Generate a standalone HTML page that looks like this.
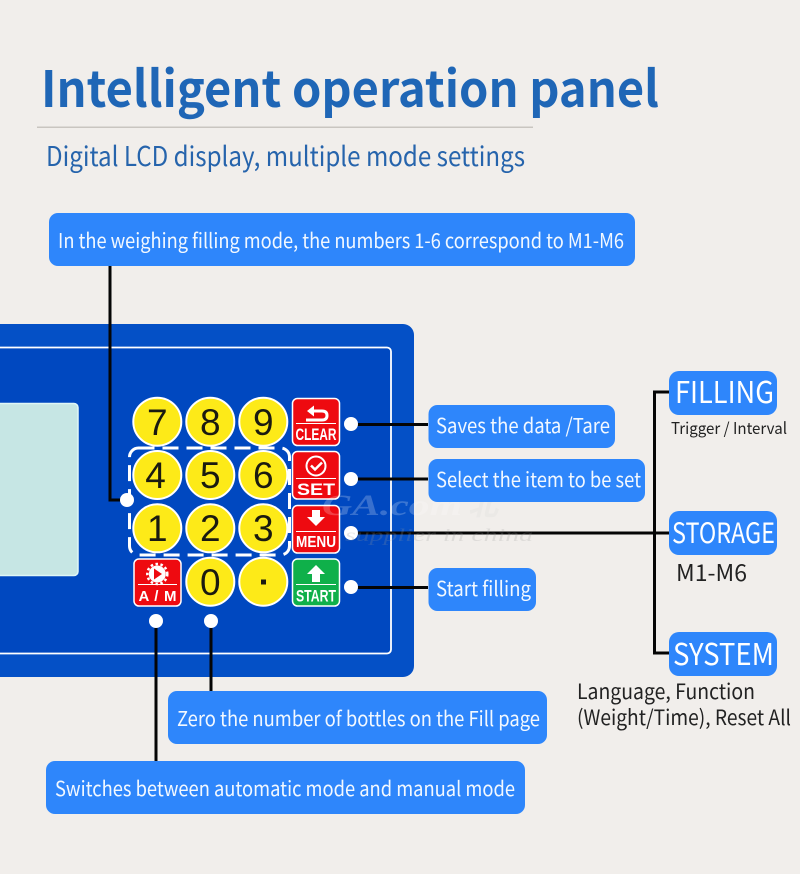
<!DOCTYPE html>
<html><head><meta charset="utf-8"><style>
html,body{margin:0;padding:0;background:#f1eeeb}
svg{display:block}
text{font-family:"Noto Sans CJK JP","Liberation Sans",sans-serif}
.l{fill:#f2f8ff;font-size:20.5px}
.d{font-family:"Liberation Sans",sans-serif;font-size:37px;fill:#1a1a10;text-anchor:middle}
.b{font-family:"Liberation Sans",sans-serif;font-weight:bold;fill:#fff;text-anchor:middle}
.h{fill:#2e86fb}
.k{fill:#fdea18;stroke:#fff;stroke-width:2}
.w{stroke:#050505;stroke-width:3;fill:none}
</style></head><body>
<svg width="800" height="874" viewBox="0 0 800 874" xmlns="http://www.w3.org/2000/svg">
<rect width="800" height="874" fill="#f1eeeb"/>
<text x="41" y="107" font-size="50" font-weight="700" fill="#1f66b6" textLength="618" lengthAdjust="spacingAndGlyphs">Intelligent operation panel</text>
<rect x="37" y="126.500" width="496" height="1.500" fill="#c9c5c0"/>
<text x="46" y="166" font-size="27" fill="#2664ac" textLength="479" lengthAdjust="spacingAndGlyphs">Digital LCD display, multiple mode settings</text>

<rect x="-12" y="324" width="426" height="353" rx="11" fill="#0450c6"/>
<rect x="-12" y="347.500" width="403" height="306" rx="4" fill="#0048c0" stroke="#fff" stroke-width="1.800"/>
<rect x="-12" y="403.500" width="90" height="172" rx="4" fill="#c6e6e4" stroke="#dff6f6" stroke-width="1.500"/>

<rect x="129.500" y="448" width="160" height="107" rx="9" fill="none" stroke="#fff" stroke-width="3" stroke-dasharray="16 8"/>

<g class="k">
<circle cx="157.300" cy="421.700" r="24"/><circle cx="210.300" cy="421.700" r="24"/><circle cx="263.300" cy="421.700" r="24"/>
<circle cx="157.300" cy="475" r="24"/><circle cx="210.300" cy="475" r="24"/><circle cx="263.300" cy="475" r="24"/>
<circle cx="157.300" cy="528.300" r="24"/><circle cx="210.300" cy="528.300" r="24"/><circle cx="263.300" cy="528.300" r="24"/>
<circle cx="210.300" cy="581.700" r="24"/><circle cx="263.300" cy="581.700" r="24"/>
</g>
<text class="d" x="157.300" y="435">7</text><text class="d" x="210.300" y="435">8</text><text class="d" x="263.300" y="435">9</text>
<text class="d" x="155.500" y="488">4</text><text class="d" x="210.300" y="488">5</text><text class="d" x="263.300" y="488">6</text>
<text class="d" x="157.300" y="541">1</text><text class="d" x="210.300" y="541">2</text><text class="d" x="263.300" y="541">3</text>
<text class="d" x="210.300" y="595">0</text>
<rect x="261" y="579.500" width="5" height="5" fill="#1a1a10"/>

<g stroke="#fff" stroke-width="1.500">
<rect x="292.500" y="398.500" width="47" height="47" rx="5" fill="#ee0a10"/>
<rect x="292.500" y="451.500" width="47" height="47.500" rx="5" fill="#ee0a10"/>
<rect x="292.500" y="505.500" width="47" height="47.500" rx="5" fill="#ee0a10"/>
<rect x="292.500" y="559" width="47" height="47" rx="5" fill="#0fb04a"/>
<rect x="134" y="559" width="47" height="47" rx="5" fill="#ee0a10"/>
</g>
<g fill="#fff" stroke="none">
<rect x="296" y="423" width="40" height="1"/><rect x="296" y="478" width="40" height="1"/><rect x="296" y="531" width="40" height="1"/><rect x="296" y="584" width="40" height="1"/><rect x="138" y="584" width="39" height="1"/>
<text class="b" x="316" y="440" font-size="16.500" textLength="41" lengthAdjust="spacingAndGlyphs">CLEAR</text>
<text class="b" x="316" y="495" font-size="17" textLength="38" lengthAdjust="spacingAndGlyphs">SET</text>
<text class="b" x="316" y="547" font-size="16" textLength="40" lengthAdjust="spacingAndGlyphs">MENU</text>
<text class="b" x="316" y="601.500" font-size="17" textLength="40" lengthAdjust="spacingAndGlyphs">START</text>
<text class="b" x="157.500" y="601" font-size="15" textLength="38" lengthAdjust="spacing">A / M</text>
<path d="M307 411l7-5.500v11z"/>
<path d="M312 512h8v7h5l-9 9-9-9h5z" transform="translate(0,-2)"/>
<path d="M316 565l9 9h-5v8h-8v-8h-5z"/>
</g>
<path d="M312 411H322Q327 411 327 415.500Q327 420 322 420H306" fill="none" stroke="#fff" stroke-width="3"/>
<circle cx="316" cy="466" r="9.500" fill="none" stroke="#fff" stroke-width="2"/>
<path d="M311 465.500l4 4 7-7" fill="none" stroke="#fff" stroke-width="2.500"/>
<circle cx="157.300" cy="574" r="8.500" fill="#fff"/>
<circle cx="157.300" cy="574" r="10" fill="none" stroke="#fff" stroke-width="2.500" stroke-dasharray="2.500 2.500"/>
<path d="M154 568.500l8 5.500-8 5.500z" fill="#ee0a10"/>

<g class="w">
<path d="M110 266V500H127"/>
<path d="M156 621V761"/>
<path d="M211 621V691"/>
<path d="M351 424.500H428"/>
<path d="M351 479H428"/>
<path d="M351 533H669"/>
<path d="M351 587.500H428"/>
<path d="M669 392H654.500V653H669"/>
</g>
<g fill="#fff">
<circle cx="351" cy="424" r="7"/><circle cx="351" cy="479" r="7"/><circle cx="351" cy="533" r="7"/><circle cx="351" cy="587" r="7"/>
<circle cx="127" cy="500" r="7"/><circle cx="156" cy="621" r="7"/><circle cx="211" cy="621" r="7"/>
</g>

<g opacity=".22" fill="#fff" font-style="italic">
<text x="322" y="515" font-size="30" font-weight="700" style="font-family:'Liberation Serif',serif" textLength="140" lengthAdjust="spacingAndGlyphs">GA.com</text>
<text x="468" y="515" font-size="30" font-weight="700" style="font-family:'Noto Sans CJK SC',sans-serif" fill="#d8d8d8">北</text>
<text x="345" y="541" font-size="18" style="font-family:'Liberation Serif',serif" fill="#9a9a9a" textLength="188" lengthAdjust="spacingAndGlyphs">supplier in china</text>
</g>

<g class="h">
<rect x="49" y="213" width="586" height="53" rx="9"/>
<rect x="428.500" y="405" width="186.500" height="43" rx="9"/>
<rect x="428.500" y="459" width="216.500" height="43" rx="9"/>
<rect x="428.500" y="568" width="107.500" height="43" rx="9"/>
<rect x="669" y="371" width="108" height="44" rx="10"/>
<rect x="669" y="511" width="108" height="44" rx="10"/>
<rect x="669" y="632" width="108" height="44" rx="10"/>
<rect x="168" y="691" width="379" height="53" rx="9"/>
<rect x="46" y="761" width="479" height="53" rx="9"/>
</g>
<text class="l" x="58" y="248" textLength="566" lengthAdjust="spacingAndGlyphs">In the weighing filling mode, the numbers 1-6 correspond to M1-M6</text>
<text class="l" x="436" y="433" textLength="174" lengthAdjust="spacingAndGlyphs">Saves the data /Tare</text>
<text class="l" x="436" y="487" textLength="205" lengthAdjust="spacingAndGlyphs">Select the item to be set</text>
<text class="l" x="436" y="596" textLength="95" lengthAdjust="spacingAndGlyphs">Start filling</text>
<text class="l" x="177" y="726" textLength="363" lengthAdjust="spacingAndGlyphs">Zero the number of bottles on the Fill page</text>
<text class="l" x="55" y="796" textLength="460" lengthAdjust="spacingAndGlyphs">Switches between automatic mode and manual mode</text>
<text x="675" y="403" font-size="30" fill="#fff" textLength="99" lengthAdjust="spacingAndGlyphs">FILLING</text>
<text x="672" y="543" font-size="28" fill="#fff" textLength="103" lengthAdjust="spacingAndGlyphs">STORAGE</text>
<text x="673" y="665" font-size="30" fill="#fff" textLength="101" lengthAdjust="spacingAndGlyphs">SYSTEM</text>
<text x="671" y="434" font-size="16" fill="#222" textLength="116" lengthAdjust="spacingAndGlyphs">Trigger / Interval</text>
<text x="676" y="581" font-size="23" fill="#222" textLength="71" lengthAdjust="spacingAndGlyphs">M1-M6</text>
<text x="577" y="699" font-size="21" fill="#222" textLength="178" lengthAdjust="spacingAndGlyphs">Language, Function</text>
<text x="577" y="725" font-size="21" fill="#222" textLength="214" lengthAdjust="spacingAndGlyphs">(Weight/Time), Reset All</text>
</svg>
</body></html>
